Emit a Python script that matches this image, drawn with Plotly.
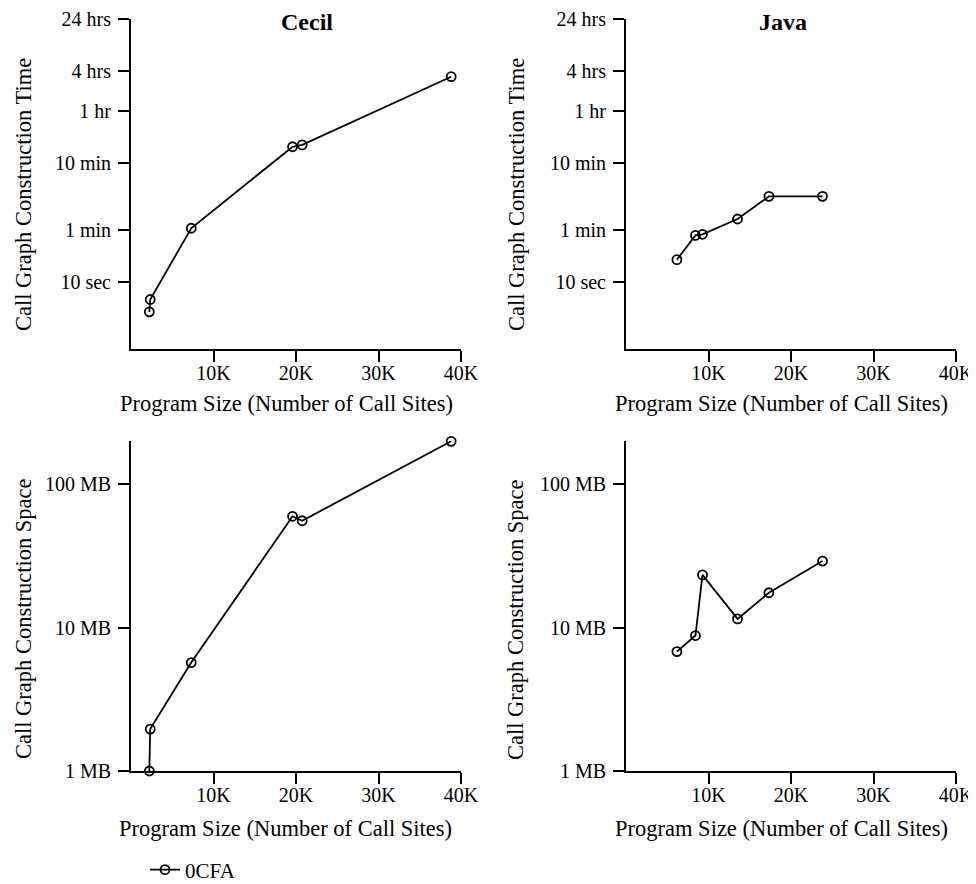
import math
import plotly.graph_objects as go

# ---------------- data ----------------
cecil_sites = [2220, 2330, 7300, 19580, 20750, 38810]
cecil_time_sec = [3.6, 5.5, 64, 1060, 1130, 11840]
cecil_space_mb = [1.0, 1.96, 5.7, 59.7, 55.6, 199]

java_sites = [6170, 8420, 9270, 13520, 17320, 23820]
java_time_sec = [21.7, 50, 52, 88, 192, 192]
java_space_mb = [6.8, 8.8, 23.3, 11.5, 17.5, 29.1]

series_name = "0CFA"
panel_titles = ["Cecil", "Java"]

x_tickvals = [10000, 20000, 30000, 40000]
x_ticktext = ["10K", "20K", "30K", "40K"]
time_tickvals = [10, 60, 600, 3600, 14400, 86400]
time_ticktext = ["10 sec", "1 min", "10 min", "1 hr", "4 hrs", "24 hrs"]
space_tickvals = [1, 10, 100]
space_ticktext = ["1 MB", "10 MB", "100 MB"]

x_title = "Program Size (Number of Call Sites)"
time_title = "Call Graph Construction Time"
space_title = "Call Graph Construction Space"

# ---------------- layout geometry ----------------
# page body has an 8px margin, so the figure is offset by 8px
OFF = 8
W, H = 968, 876
FONT = "Liberation Serif"


def px(x):
    return (x - OFF) / W


def py(y):
    return 1 - (y - OFF) / H


left_dom = [px(131), px(461)]
right_dom = [px(626), px(956)]
top_dom = [py(349), py(19)]
bot_dom = [py(771), py(441)]

fig = go.Figure()

panels = [
    ("x", "y", cecil_sites, cecil_time_sec, True),
    ("x2", "y2", java_sites, java_time_sec, False),
    ("x3", "y3", cecil_sites, cecil_space_mb, False),
    ("x4", "y4", java_sites, java_space_mb, False),
]
for xa, ya, xs, ys, show in panels:
    fig.add_trace(go.Scatter(
        x=xs, y=ys, xaxis=xa, yaxis=ya,
        mode="lines+markers", name=series_name, showlegend=show,
        line=dict(color="black", width=1.8),
        marker=dict(symbol="circle-open", size=9, color="black",
                    line=dict(width=1.8, color="black")),
        cliponaxis=False,
    ))

tickfont = dict(family=FONT, size=20, color="black")
common_x = dict(
    range=[0, 40000], tickvals=x_tickvals, ticktext=x_ticktext,
    showline=True, linewidth=2, linecolor="black", ticks="outside",
    ticklen=11, tickwidth=1.5, tickcolor="black", showgrid=False,
    zeroline=False, tickfont=tickfont, automargin=False,
    ticklabelstandoff=-6,
)
common_y = dict(
    type="log", showline=True, linewidth=2, linecolor="black",
    ticks="outside", ticklen=11, tickwidth=1.5, tickcolor="black",
    showgrid=False, zeroline=False, tickfont=tickfont, automargin=False,
    ticklabelstandoff=3,
)

fig.update_layout(
    width=W, height=H,
    margin=dict(l=0, r=0, t=0, b=0, autoexpand=False),
    paper_bgcolor="white", plot_bgcolor="white",
    font=dict(family=FONT, color="black"),
    xaxis=dict(domain=left_dom, anchor="y", **common_x),
    xaxis2=dict(domain=right_dom, anchor="y2", **common_x),
    xaxis3=dict(domain=left_dom, anchor="y3", **common_x),
    xaxis4=dict(domain=right_dom, anchor="y4", **common_x),
    yaxis=dict(domain=top_dom, anchor="x", range=[0, math.log10(86400)],
               tickvals=time_tickvals, ticktext=time_ticktext, **common_y),
    yaxis2=dict(domain=top_dom, anchor="x2", range=[0, math.log10(86400)],
                tickvals=time_tickvals, ticktext=time_ticktext, **common_y),
    yaxis3=dict(domain=bot_dom, anchor="x3", range=[0, math.log10(200)],
                tickvals=space_tickvals, ticktext=space_ticktext, **common_y),
    yaxis4=dict(domain=bot_dom, anchor="x4", range=[0, math.log10(200)],
                tickvals=space_tickvals, ticktext=space_ticktext, **common_y),
    showlegend=True,
    legend=dict(x=px(145), y=py(870), xanchor="left", yanchor="middle",
                font=dict(family=FONT, size=21, color="black"),
                bgcolor="rgba(0,0,0,0)", borderwidth=0),
)

ann = []
titlefont = dict(family=FONT, size=22.5, color="black")


def add_text(text, x, y, font, angle=0):
    ann.append(dict(text=text, x=px(x), y=py(y), xref="paper", yref="paper",
                    xanchor="center", yanchor="middle", showarrow=False,
                    textangle=angle, font=font))


# panel titles
add_text("<b>" + panel_titles[0] + "</b>", 307, 22,
         dict(family=FONT, size=24, color="black"))
add_text("<b>" + panel_titles[1] + "</b>", 783, 22,
         dict(family=FONT, size=24, color="black"))
# x titles
for cx, cy in [(286, 403), (781, 403), (285, 828), (781, 828)]:
    add_text(x_title, cx, cy, titlefont)
# y titles
for cx, cy, t in [(23, 195, time_title), (516, 195, time_title),
                  (23, 619, space_title), (515, 619, space_title)]:
    add_text(t, cx, cy, titlefont, angle=-90)
fig.update_layout(annotations=ann)

fig.write_html("out.html")
